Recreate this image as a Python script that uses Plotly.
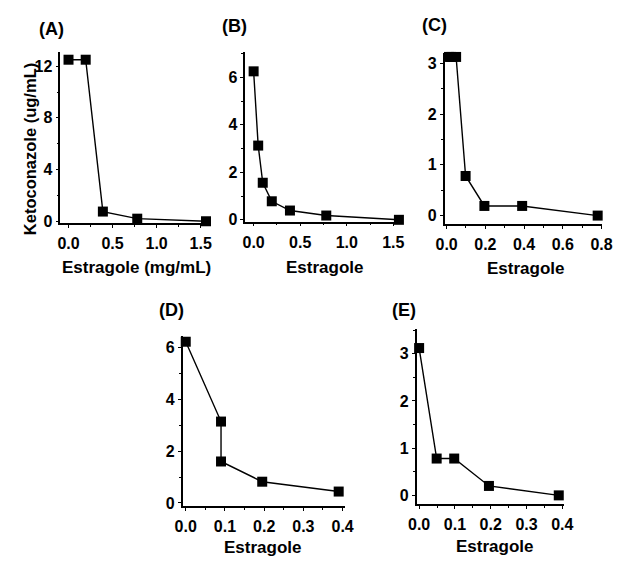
import plotly.graph_objects as go

W, H = 629, 563

# ---- data ----
a_x = [0.0, 0.195, 0.39, 0.78, 1.56]
a_y = [12.5, 12.5, 0.75, 0.2, 0.0]
b_x = [0.0, 0.049, 0.098, 0.195, 0.39, 0.78, 1.56]
b_y = [6.25, 3.125, 1.56, 0.78, 0.39, 0.18, 0.0]
c_x = [0.012, 0.024, 0.049, 0.098, 0.195, 0.39, 0.78]
c_y = [3.125, 3.125, 3.125, 0.78, 0.19, 0.19, 0.0]
d_x = [0.0, 0.09, 0.09, 0.195, 0.39]
d_y = [6.22, 3.14, 1.6, 0.82, 0.44]
e_x = [0.0, 0.049, 0.098, 0.195, 0.39]
e_y = [3.12, 0.78, 0.78, 0.2, 0.0]

# tick labels
ticks_x_ab = [0.0, 0.5, 1.0, 1.5]
ticks_x_c = [0.0, 0.2, 0.4, 0.6, 0.8]
ticks_x_de = [0.0, 0.1, 0.2, 0.3, 0.4]
ticks_y_a = [0, 4, 8, 12]
ticks_y_bd = [0, 2, 4, 6]
ticks_y_ce = [0, 1, 2, 3]

panel_labels = ["(A)", "(B)", "(C)", "(D)", "(E)"]
y_title = "Ketoconazole (ug/mL)"
x_title_a = "Estragole (mg/mL)"
x_title = "Estragole"

FONT = "Liberation Sans, Arial, sans-serif"

# pixel boxes (left, right, top, bottom) and axis settings
panels = [
    dict(x=a_x, y=a_y, box=(53, 206, 53, 226), xr=[-0.093, 1.588], yr=[-0.15, 13.07],
         xt=ticks_x_ab, yt=ticks_y_a, xm=0.25, ym=2),
    dict(x=b_x, y=b_y, box=(244, 406, 53, 224.5), xr=[-0.09, 1.594], yr=[-0.08, 7.05],
         xt=ticks_x_ab, yt=ticks_y_bd, xm=0.25, ym=1),
    dict(x=c_x, y=c_y, box=(450, 612, 53.8, 227.3), xr=[-0.01, 0.8], yr=[-0.175, 3.2],
         xt=ticks_x_c, yt=ticks_y_ce, xm=0.1, ym=0.5),
    dict(x=d_x, y=d_y, box=(179.3, 347, 340, 512.7), xr=[-0.008, 0.406], yr=[-0.13, 6.45],
         xt=ticks_x_de, yt=ticks_y_bd, xm=0.05, ym=1),
    dict(x=e_x, y=e_y, box=(421, 573, 333.3, 510.7), xr=[-0.007, 0.404], yr=[-0.19, 3.52],
         xt=ticks_x_de, yt=ticks_y_ce, xm=0.05, ym=0.5),
]

fig = go.Figure()
layout = {}
for i, p in enumerate(panels):
    n = "" if i == 0 else str(i + 1)
    l, r, t, b = p["box"]
    fig.add_trace(go.Scatter(
        x=p["x"], y=p["y"], mode="lines+markers",
        line=dict(color="black", width=1.4),
        marker=dict(symbol="square", size=10, color="black"),
        xaxis="x" + n, yaxis="y" + n, showlegend=False, cliponaxis=False,
    ))
    common = dict(showline=True, linecolor="black", linewidth=1.5, ticks="outside",
                  ticklen=3, tickwidth=1.3, tickcolor="black", showgrid=False,
                  zeroline=False, mirror=False, tickmode="array",
                  tickfont=dict(family=FONT, size=16, color="black", weight="bold"))
    layout["xaxis" + n] = dict(common, domain=[l / W, r / W], range=p["xr"],
                               anchor="y" + n, tickvals=p["xt"],
                               ticktext=["<b>%.1f</b>" % v for v in p["xt"]],
                               ticklabelstandoff=2,
                               minor=dict(ticks="outside", ticklen=2, dtick=p["xm"],
                                          tick0=0, tickcolor="black", tickwidth=1))
    layout["yaxis" + n] = dict(common, domain=[1 - b / H, 1 - t / H], range=p["yr"],
                               anchor="x" + n, tickvals=p["yt"],
                               ticktext=["<b>%d</b>" % v for v in p["yt"]],
                               minor=dict(ticks="outside", ticklen=2, dtick=p["ym"],
                                          tick0=0, tickcolor="black", tickwidth=1))

fig.update_layout(**layout)

ann = []
label_pos = [(44, 29), (233, 26), (439, 25), (168, 314), (408, 314)]
for txt, (px, py) in zip(panel_labels, label_pos):
    ann.append(dict(text="<b>%s</b>" % txt, x=px / W, y=1 - py / H, xref="paper", yref="paper",
                    xanchor="center", yanchor="middle", showarrow=False,
                    font=dict(family=FONT, size=18, color="black")))
xt_pos = [(x_title_a, 131.5, 271), (x_title, 326, 271), (x_title, 533, 272),
          (x_title, 261.5, 554), (x_title, 501, 553)]
for txt, px, py in xt_pos:
    ann.append(dict(text="<b>%s</b>" % txt, x=px / W, y=1 - py / H, xref="paper", yref="paper",
                    xanchor="center", yanchor="middle", showarrow=False,
                    font=dict(family=FONT, size=17, color="black")))
ann.append(dict(text="<b>%s</b>" % y_title, x=21.7 / W, y=1 - 151 / H, xref="paper", yref="paper",
                xanchor="center", yanchor="middle", showarrow=False, textangle=-90,
                font=dict(family=FONT, size=16.5, color="black")))

fig.update_layout(width=W, height=H, margin=dict(l=0, r=0, t=0, b=0),
                  paper_bgcolor="white", plot_bgcolor="white", annotations=ann)

fig.write_html("out.html", config={"displayModeBar": False},
               post_script="document.body.style.margin='0px';")
